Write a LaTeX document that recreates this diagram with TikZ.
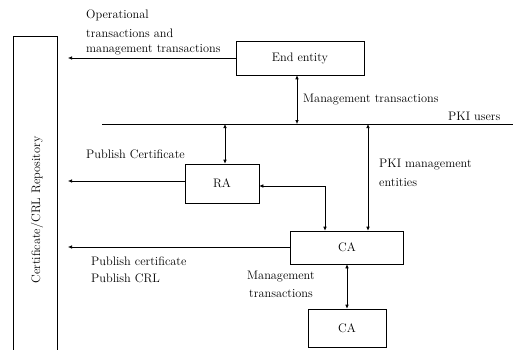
\documentclass[tikz,border=0pt]{standalone}
\usepackage{tikz}
\usetikzlibrary{arrows.meta}
\usetikzlibrary{calc}
\tikzstyle{box} = [rectangle, draw, line width=0.6pt, inner sep=0pt, font=\fontsize{12.3}{14}\selectfont]
\tikzstyle{lbl} = [anchor=west, inner sep=0pt, font=\fontsize{12.3}{14}\selectfont]
\tikzstyle{ar} = [-{Latex[length=4pt,width=3.5pt]}, line width=0.6pt]
\tikzstyle{dar} = [{Latex[length=4pt,width=3.5pt]}-{Latex[length=4pt,width=3.5pt]}, line width=0.6pt]

\begin{document}
\begin{tikzpicture}[x=1pt,y=-1pt]
				\useasboundingbox (0,0) rectangle (513,350);
				\node[box, minimum width=44pt, minimum height=320pt, anchor=north west] (rep) at (13,36) {};
				\node[rotate=90, font=\fontsize{12.3}{14}\selectfont] (replbl) at (37,210) {Certificate/CRL Repository};
				\node[box, minimum width=128pt, minimum height=34pt] (ee) at (300,58) {End entity};
				\node[box, minimum width=74pt, minimum height=39pt] (ra) at (222,183.5) {RA};
				\node[box, minimum width=113pt, minimum height=33pt] (ca) at (347,247.5) {CA};
				\node[box, minimum width=78pt, minimum height=38pt] (ca2) at (347,328) {CA};
				%%%%%%%%%%%%%%%%%%%%%%%%%%%%%%%%%%
				\coordinate (u1) at (102,124);
				\coordinate (u2) at (513,124);
				\coordinate (o1) at (68,58);
				\coordinate (o2) at (68,181);
				\coordinate (o3) at (68,247);
				\coordinate (bend) at (325,186);
				%%%%%%%%%%%%%%%%%%%%%%%%%%%%%%%%%%
				\draw[line width=0.6pt] (u1) -- (u2);
				\draw[ar] (ee.west |- o1) -- (o1);
				\draw[ar] (ra.west |- o2) -- (o2);
				\draw[ar] (ca.west |- o3) -- (o3);
				\draw[dar] (ee.south -| 297,0) -- (297,124);
				\draw[dar] (225,124) -- (ra.north -| 225,0);
				\draw[dar] (368,124) -- (ca.north -| 368,0);
				\draw[dar] (ra.east |- bend) -- (bend) -- (ca.north -| bend);
				\draw[dar] (ca.south) -- (ca2.north);
				%%%%%%%%%%%%%%%%%%%%%%%%%%%%%%%%%%
				\node[lbl] (t1) at (86,15) {Operational};
				\node[lbl] (t2) at (86,33) {transactions and};
				\node[lbl] (t3) at (86,50) {management transactions};
				\node[lbl] (t4) at (303,100) {Management transactions};
				\node[lbl] (t5) at (448,116) {PKI users};
				\node[lbl] (t6) at (86,154) {Publish Certificate};
				\node[lbl] (t7) at (379,165) {PKI management};
				\node[lbl] (t8) at (379,183) {entities};
				\node[lbl] (t9) at (91,261) {Publish certificate};
				\node[lbl] (t10) at (91,278) {Publish CRL};
				\node[lbl] (t11) at (247,277) {Management};
				\node[lbl] (t12) at (249,294) {transactions};
			\end{tikzpicture}
\end{document}
